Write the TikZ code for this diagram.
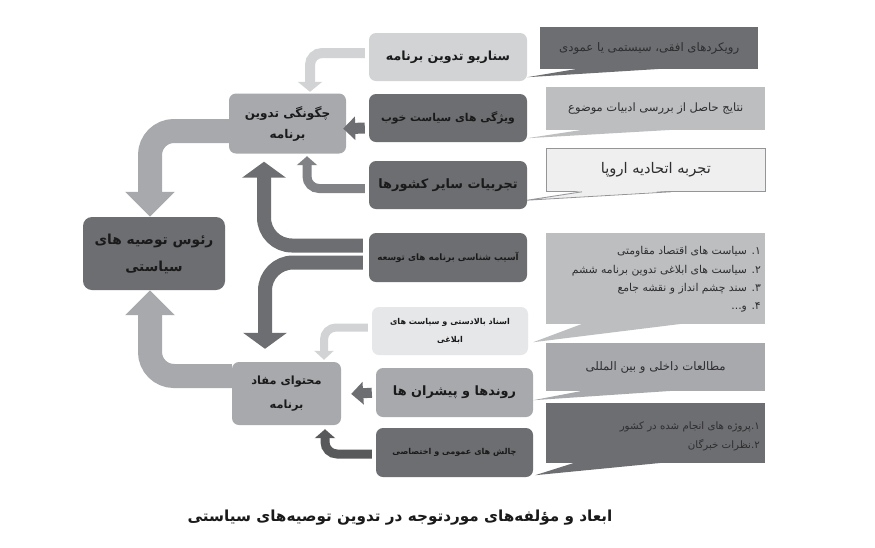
\documentclass[tikz,border=0pt]{standalone}
\usepackage{fontspec}
\usetikzlibrary{arrows.meta,calc}
\TeXXeTstate=1
\newfontfamily\arf[Script=Arabic]{DejaVu Sans}
\definecolor{g1}{HTML}{E6E7E8}
\definecolor{g2}{HTML}{D1D3D4}
\definecolor{g3}{HTML}{BCBEC0}
\definecolor{g4}{HTML}{A7A9AC}
\definecolor{g5}{HTML}{808285}
\definecolor{g6}{HTML}{6D6E71}
\definecolor{g7}{HTML}{58595B}
\definecolor{cfill}{HTML}{EFEFF0}
\definecolor{cline}{HTML}{939598}
\definecolor{ctx}{HTML}{2E2E30}
\definecolor{btx}{HTML}{1A1A1A}
\newlength\fitlen
\newcommand\fitk{1.08}
\newcommand\setfit[4]{%
  \settowidth\fitlen{\arf#2\fontsize{10}{12}\selectfont#3}%
  \pgfmathsetmacro\fitsz{10*\fitk*#1/\fitlen}%
  \arf#2\fontsize{\fitsz}{#4}\selectfont}
\newcommand\fitR[3]{\setfit{#1}{#2}{#3}{12}#3}
\tikzset{
  box/.style={rectangle, rounded corners=7pt, inner sep=0pt, align=center, text=btx},
  call/.style={rectangle, inner sep=0pt, anchor=north west, align=center, text=ctx,
    minimum width=219pt},
  bigarr/.style={line width=24pt, draw=g4, rounded corners=24pt,
    -{Triangle[width=48pt,length=25pt]}},
  medarr/.style={line width=14pt, draw=g6, rounded corners=28pt, shorten <=6pt,
    -{Triangle[width=43pt,length=16pt]}},
  smallarr/.style={line width=#1, rounded corners=12pt, shorten <=4pt},
}
\begin{document}
\begin{tikzpicture}[x=1pt,y=-1pt]
\useasboundingbox (0,0) rectangle (875,547);
\fill[white] (0,0) rectangle (875,547);

% left column
\node[box, fill=g4, minimum width=117pt, minimum height=60pt,
  font={\setfit{79}{\bfseries}{\beginR چگونگی تدوین\endR}{21}}] (chg) at (287.5,123.5)
  {\beginR چگونگی تدوین\endR\\\beginR برنامه\endR};
\node[box, fill=g6, rounded corners=9pt, minimum width=142pt, minimum height=73pt,
  font={\setfit{110}{\bfseries}{\beginR رئوس توصیه های\endR}{27}}] (raos) at (154,253.5)
  {\beginR رئوس توصیه های\endR\\\beginR سیاستی\endR};
\node[box, fill=g4, minimum width=109pt, minimum height=63pt,
  font={\setfit{65}{\bfseries}{\beginR محتوای مفاد\endR}{24}}] (moh) at (286.5,393.5)
  {\beginR محتوای مفاد\endR\\\beginR برنامه\endR};

% middle column
\node[box, fill=g2, minimum width=158pt, minimum height=48pt] (b1) at (448,57)
  {\fitR{115}{\bfseries}{\beginR سناریو تدوین برنامه\endR}};
\node[box, fill=g6, minimum width=158pt, minimum height=48pt] (b2) at (448,118)
  {\fitR{124}{\bfseries}{\beginR ویژگی های سیاست خوب\endR}};
\node[box, fill=g6, minimum width=158pt, minimum height=48pt] (b3) at (448,185)
  {\fitR{129}{\bfseries}{\beginR تجربیات سایر کشورها\endR}};
\node[box, fill=g6, minimum width=158pt, minimum height=49pt] (b4) at (448,257.5)
  {\fitR{131}{\bfseries}{\beginR آسیب شناسی برنامه های توسعه\endR}};
\node[box, fill=g1, minimum width=156pt, minimum height=48pt,
  font={\setfit{111}{\bfseries}{\beginR اسناد بالادستی و سیاست های\endR}{18}}] (b5) at (450,331)
  {\beginR اسناد بالادستی و سیاست های\endR\\\beginR ابلاغی\endR};
\node[box, fill=g4, minimum width=157pt, minimum height=49pt] (b6) at (454.5,392.5)
  {\fitR{114}{\bfseries}{\beginR روندها و پیشران ها\endR}};
\node[box, fill=g6, minimum width=157pt, minimum height=49pt] (b7) at (454.5,452.5)
  {\fitR{115}{\bfseries}{\beginR چالش های عمومی و اختصاصی\endR}};

% big arrows to the head box
\draw[bigarr] ([yshift=-7.5pt]chg.west) -| ([xshift=-4pt]raos.north);
\draw[bigarr] ([yshift=17.5pt]moh.west) -| ([xshift=-4pt]raos.south);

% arrows from b4
\draw[medarr, shorten >=8pt] ([yshift=12pt]b4.west) -| ([xshift=-23.5pt]chg.south);
\draw[medarr, shorten >=13pt] ([yshift=-5pt]b4.west) -| ([xshift=-21.5pt]moh.north);

% small arrows
\draw[smallarr=10pt, draw=g2, shorten >=1.5pt, -{Triangle[width=24pt,length=10pt]}]
  ([yshift=4pt]b1.west) -| ([xshift=22.5pt]chg.north);
\draw[smallarr=11pt, draw=g6, shorten >=-3pt, -{Triangle[width=23pt,length=12pt]}]
  ([yshift=-10pt]b2.west) -- ([yshift=-5pt]chg.east);
\draw[smallarr=9pt, draw=g5, shorten >=2.5pt, -{Triangle[width=20pt,length=9pt]}]
  ([yshift=-3.5pt]b3.west) -| ([xshift=19.5pt]chg.south);
\draw[smallarr=8pt, draw=g2, shorten >=2pt, -{Triangle[width=19pt,length=9pt]}]
  ([yshift=3.5pt]b5.west) -| ([xshift=37.5pt]moh.north);
\draw[smallarr=10pt, draw=g6, shorten >=10pt, -{Triangle[width=22pt,length=12pt]}]
  (b6.west) -- ([yshift=-1pt]moh.east);
\draw[smallarr=9pt, draw=g7, shorten >=4pt, -{Triangle[width=20pt,length=9pt]}]
  ([yshift=-1.5pt]b7.west) -| ([xshift=38.5pt]moh.south);

% callout tips
\coordinate (pA) at ($(b1.south east)+(0,-4)$);
\coordinate (pB) at ($(b2.south east)+(0,-4)$);
\coordinate (pC) at ($(b3.south east)+(0,-9)$);
\coordinate (pD) at ($(b5.south east)+(5,-13)$);
\coordinate (pE) at ($(b6.south east)+(0,-17)$);
\coordinate (pF) at ($(b7.south east)+(2,-2)$);

% callouts
\node[call, fill=g6, minimum width=218pt, minimum height=42pt] (cA) at (540,27)
  {\def\fitk{1}\fitR{180}{}{\beginR رویکردهای افقی، سیستمی یا عمودی\endR}};
\fill[g6] ([xshift=37pt,yshift=0.5pt]cA.south west) -- (pA) -- ([xshift=120pt,yshift=0.5pt]cA.south west) -- cycle;

\node[call, fill=g3, minimum height=43pt] (cB) at (546,87)
  {\def\fitk{1}\fitR{175}{}{\beginR نتایج حاصل از بررسی ادبیات موضوع\endR}};
\fill[g3] ([xshift=36pt,yshift=0.5pt]cB.south west) -- (pB) -- ([xshift=125pt,yshift=0.5pt]cB.south west) -- cycle;

\node[call, fill=cfill, draw=cline, line width=0.8pt, minimum height=43pt] (cC) at (546,148)
  {\def\fitk{1}\fitR{110}{}{\beginR تجربه اتحادیه اروپا\endR}};
\fill[cfill] ([xshift=36pt,yshift=1pt]cC.south west) -- (pC) -- ([xshift=125pt,yshift=1pt]cC.south west) -- cycle;
\draw[cline, line width=0.8pt] ([xshift=36pt]cC.south west) -- (pC) -- ([xshift=125pt]cC.south west);

\node[call, fill=g3, minimum height=91pt] (cD) at (546,233) {};
\fill[g3] ([xshift=36pt,yshift=0.5pt]cD.south west) -- (pD) -- ([xshift=135pt,yshift=0.5pt]cD.south west) -- cycle;
\node[anchor=east, align=right, inner sep=0pt, text=ctx,
  font={\def\fitk{1}\setfit{189}{}{\beginR ۲\kern0pt. سیاست های ابلاغی تدوین برنامه ششم\endR}{18.3}}] (dT) at (761,279.5)
  {\beginR ۱\kern0pt. سیاست های اقتصاد مقاومتی\endR\\
   \beginR ۲\kern0pt. سیاست های ابلاغی تدوین برنامه ششم\endR\\
   \beginR ۳\kern0pt. سند چشم انداز و نقشه جامع\endR\\
   \beginR ۴\kern0pt. و...\endR};

\node[call, fill=g4, minimum height=48pt] (cE) at (546,343)
  {\def\fitk{1}\fitR{140}{}{\beginR مطالعات داخلی و بین المللی\endR}};
\fill[g4] ([xshift=36pt,yshift=0.5pt]cE.south west) -- (pE) -- ([xshift=125pt,yshift=0.5pt]cE.south west) -- cycle;

\node[call, fill=g6, minimum height=60pt] (cF) at (546,403) {};
\fill[g6] ([xshift=28pt,yshift=0.5pt]cF.south west) -- (pF) -- ([xshift=115pt,yshift=0.5pt]cF.south west) -- cycle;
\node[anchor=east, align=right, inner sep=0pt, text=ctx,
  font={\def\fitk{1}\setfit{140}{}{\beginR ۱\kern0pt.\kern0pt پروژه های انجام شده در کشور\endR}{19}}] (fT) at (760,436.5)
  {\beginR ۱\kern0pt.\kern0pt پروژه های انجام شده در کشور\endR\\
   \beginR ۲\kern0pt.\kern0pt نظرات خبرگان\endR};

% caption
\node[inner sep=0pt, text=btx] (cap) at (400,518)
  {\def\fitk{1}\fitR{425}{\bfseries}{\beginR ابعاد و مؤلفه^^^^200cهای موردتوجه در تدوین توصیه^^^^200cهای سیاستی\endR}};
\end{tikzpicture}
\end{document}
